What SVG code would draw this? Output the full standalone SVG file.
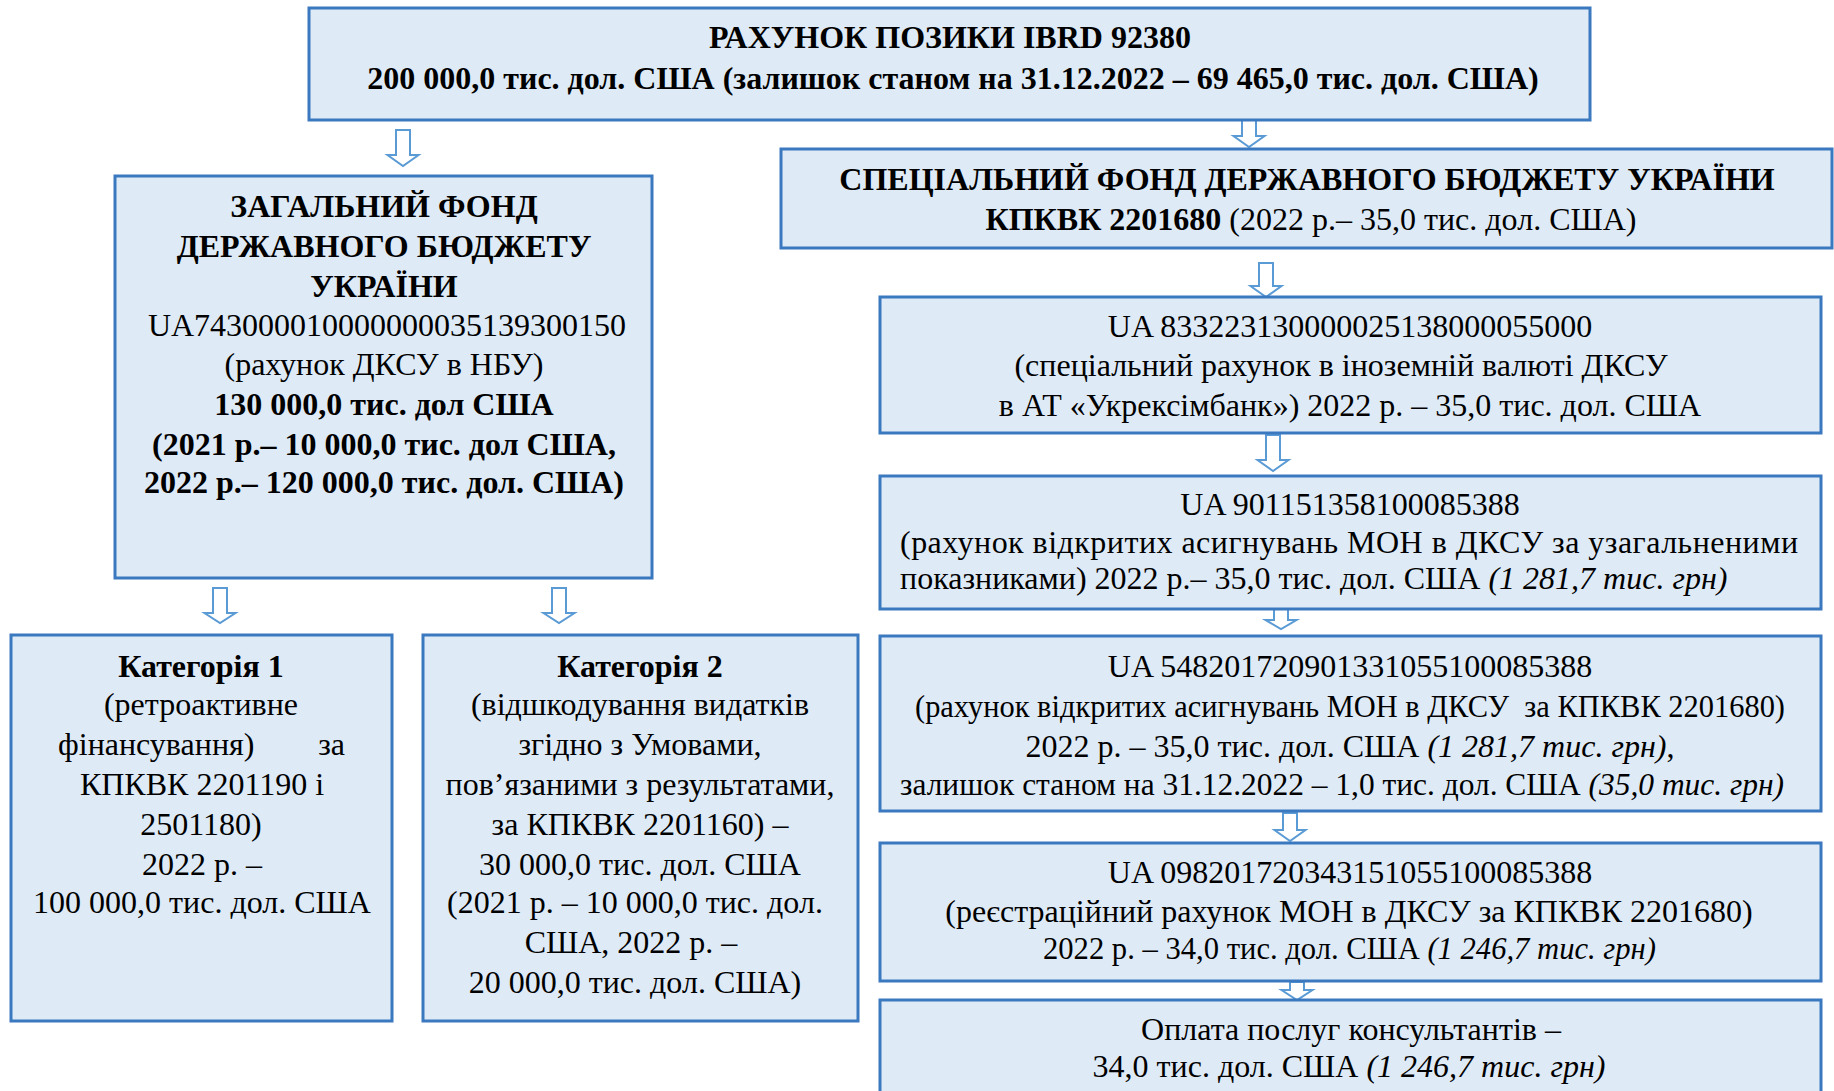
<svg xmlns="http://www.w3.org/2000/svg" width="1834" height="1091" viewBox="0 0 1834 1091">
<style>
.box{fill:#deeaf6;stroke:#3a78bf;stroke-width:3}
.arr{fill:#ffffff;stroke:#5b9bd5;stroke-width:2}
text{font-family:"Liberation Serif","Times New Roman",serif;font-size:32px;fill:#000}
.c{text-anchor:middle}
.b{font-weight:bold}
.i{font-style:italic}
</style>
<rect width="1834" height="1091" fill="#ffffff"/>
<g id="connectors">
<path class="arr" d="M396 130H410V155H418.5L403 166L387.5 155H396Z"/>
<path class="arr" d="M1242 120H1256V136H1264.5L1249 147L1233.5 136H1242Z"/>
<path class="arr" d="M1259 263H1273V286H1281.5L1266 297L1250.5 286H1259Z"/>
<path class="arr" d="M1266 435H1280V460H1288.5L1273 471L1257.5 460H1266Z"/>
<path class="arr" d="M1274 609H1288V620H1296.5L1281 629L1265.5 620H1274Z"/>
<path class="arr" d="M1283 813H1297V830H1305.5L1290 841L1274.5 830H1283Z"/>
<path class="arr" d="M1290 982H1304V990H1312.5L1297 1000L1281.5 990H1290Z"/>
<path class="arr" d="M213 588H227V613H235.5L220 623L204.5 613H213Z"/>
<path class="arr" d="M552 588H566V613H574.5L559 623L543.5 613H552Z"/>
</g>
<g id="loan">
<rect class="box" x="309" y="8" width="1281" height="112"/>
<text class="c b" x="950" y="48">РАХУНОК ПОЗИКИ IBRD 92380</text>
<text class="c b" x="953" y="89">200 000,0 тис. дол. США (залишок станом на 31.12.2022 – 69 465,0 тис. дол. США)</text>
</g>
<g id="general-fund">
<rect class="box" x="115" y="176" width="537" height="402"/>
<text class="c b" x="384" y="217">ЗАГАЛЬНИЙ ФОНД</text>
<text class="c b" x="384" y="257">ДЕРЖАВНОГО БЮДЖЕТУ</text>
<text class="c b" x="384" y="297">УКРАЇНИ</text>
<text class="c" x="387" y="336">UA743000010000000035139300150</text>
<text class="c" x="384" y="375">(рахунок ДКСУ в НБУ)</text>
<text class="c b" x="384" y="415">130 000,0 тис. дол США</text>
<text class="c b" x="384" y="455">(2021 р.– 10 000,0 тис. дол США,</text>
<text class="c b" x="384" y="493">2022 р.– 120 000,0 тис. дол. США)</text>
</g>
<g id="special-fund">
<rect class="box" x="781" y="149" width="1051" height="99"/>
<text class="c b" x="1307" y="190">СПЕЦІАЛЬНИЙ ФОНД ДЕРЖАВНОГО БЮДЖЕТУ УКРАЇНИ</text>
<text class="c" x="1311" y="230"><tspan class="b">КПКВК 2201680</tspan> (2022 р.– 35,0 тис. дол. США)</text>
</g>
<g id="account-833">
<rect class="box" x="880" y="297" width="941" height="136"/>
<text class="c" x="1350" y="337">UA 833223130000025138000055000</text>
<text class="c" x="1341" y="376">(спеціальний рахунок в іноземній валюті ДКСУ</text>
<text class="c" x="1350" y="416">в АТ «Укрексімбанк») 2022 р. – 35,0 тис. дол. США</text>
</g>
<g id="account-901">
<rect class="box" x="880" y="476" width="941" height="133"/>
<text class="c" x="1350" y="515">UA 901151358100085388</text>
<text x="900" y="553" textLength="898" lengthAdjust="spacing">(рахунок відкритих асигнувань МОН в ДКСУ за узагальненими</text>
<text x="900" y="589">показниками) 2022 р.– 35,0 тис. дол. США <tspan class="i">(1 281,7 тис. грн)</tspan></text>
</g>
<g id="account-548">
<rect class="box" x="880" y="636" width="941" height="175"/>
<text class="c" x="1350" y="677">UA 548201720901331055100085388</text>
<text x="915" y="717" textLength="870" lengthAdjust="spacingAndGlyphs">(рахунок відкритих асигнувань МОН в ДКСУ&#160; за КПКВК 2201680)</text>
<text class="c" x="1350" y="757">2022 р. – 35,0 тис. дол. США <tspan class="i">(1 281,7 тис. грн)</tspan>,</text>
<text x="900" y="795" textLength="884" lengthAdjust="spacingAndGlyphs">залишок станом на 31.12.2022 – 1,0 тис. дол. США <tspan class="i">(35,0 тис. грн)</tspan></text>
</g>
<g id="account-098">
<rect class="box" x="880" y="843" width="941" height="138"/>
<text class="c" x="1350" y="883">UA 098201720343151055100085388</text>
<text class="c" x="1349" y="922">(реєстраційний рахунок МОН в ДКСУ за КПКВК 2201680)</text>
<text x="1043" y="959" textLength="613" lengthAdjust="spacingAndGlyphs">2022 р. – 34,0 тис. дол. США <tspan class="i">(1 246,7 тис. грн)</tspan></text>
</g>
<g id="consultants">
<rect class="box" x="880" y="1000" width="941" height="100"/>
<text class="c" x="1351" y="1040">Оплата послуг консультантів –</text>
<text class="c" x="1349" y="1077">34,0 тис. дол. США <tspan class="i">(1 246,7 тис. грн)</tspan></text>
</g>
<g id="category-1">
<rect class="box" x="11" y="635" width="381" height="386"/>
<text class="c b" x="201" y="677">Категорія 1</text>
<text class="c" x="201" y="715">(ретроактивне</text>
<text x="58" y="755">фінансування)</text>
<text x="345" y="755" text-anchor="end">за</text>
<text class="c" x="202" y="795">КПКВК 2201190 і</text>
<text class="c" x="201" y="835">2501180)</text>
<text class="c" x="202" y="875">2022 р. –</text>
<text class="c" x="202" y="913">100 000,0 тис. дол. США</text>
</g>
<g id="category-2">
<rect class="box" x="423" y="635" width="435" height="386"/>
<text class="c b" x="640" y="677">Категорія 2</text>
<text class="c" x="640" y="715">(відшкодування видатків</text>
<text class="c" x="640" y="755">згідно з Умовами,</text>
<text class="c" x="640" y="795">пов’язаними з результатами,</text>
<text class="c" x="640" y="835">за КПКВК 2201160) –</text>
<text class="c" x="640" y="875">30 000,0 тис. дол. США</text>
<text class="c" x="635" y="913">(2021 р. – 10 000,0 тис. дол.</text>
<text class="c" x="631" y="953">США, 2022 р. –</text>
<text class="c" x="635" y="993">20 000,0 тис. дол. США)</text>
</g>
</svg>
